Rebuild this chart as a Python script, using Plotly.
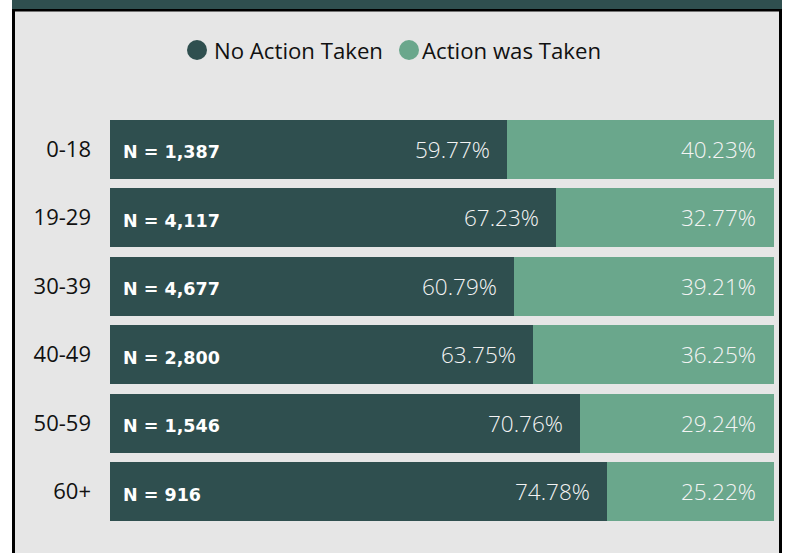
import plotly.graph_objects as go

categories = ["0-18", "19-29", "30-39", "40-49", "50-59", "60+"]
no_action = [59.77, 67.23, 60.79, 63.75, 70.76, 74.78]
action = [40.23, 32.77, 39.21, 36.25, 29.24, 25.22]
n_counts = [1387, 4117, 4677, 2800, 1546, 916]
series_names = ["No Action Taken", "Action was Taken"]
colors = ["#2f4f4f", "#6aa78c"]

W, H = 787, 553
L, R, T, B = 110, 13, 115, 27
PW, PH = W - L - R, H - T - B


def px(x):
    return (x - L) / PW


def py(y):
    return (H - B - y) / PH


FONT = "Open Sans"
fig = go.Figure()
fig.add_trace(go.Bar(y=categories, x=no_action, orientation="h", name=series_names[0],
                     marker=dict(color=colors[0], line=dict(width=0)), showlegend=False,
                     hoverinfo="x+y"))
fig.add_trace(go.Bar(y=categories, x=action, orientation="h", name=series_names[1],
                     marker=dict(color=colors[1], line=dict(width=0)), showlegend=False,
                     hoverinfo="x+y"))

annotations = []
for c, a, b, n in zip(categories, no_action, action, n_counts):
    annotations.append(dict(x=a, y=c, xref="x", yref="y", text=f"{a:.2f}%", showarrow=False,
                            xanchor="right", xshift=-15, yshift=0,
                            font=dict(family=FONT, size=22.5, color="#f4f4f4", weight=300)))
    annotations.append(dict(x=a + b, y=c, xref="x", yref="y", text=f"{b:.2f}%", showarrow=False,
                            xanchor="right", xshift=-16, yshift=0,
                            font=dict(family=FONT, size=22.5, color="#f4f4f4", weight=300)))
    annotations.append(dict(x=0, y=c, xref="x", yref="y", text=f"N = {n:,}", showarrow=False,
                            xanchor="left", xshift=11, yshift=-3,
                            font=dict(family="DejaVu Sans", size=17.5, color="#ffffff", weight="bold")))

# manual legend
leg_y = 50
leg_items = [(187, 212), (399, 420)]
shapes = [
    dict(type="rect", xref="paper", yref="paper", x0=px(13.5), x1=px(780.5), y0=py(600), y1=py(10),
         fillcolor="#e6e6e6", line=dict(color="#000000", width=3), layer="below"),
    dict(type="rect", xref="paper", yref="paper", x0=px(12), x1=px(782), y0=py(9), y1=py(0),
         fillcolor="#2f4f4f", line=dict(width=0), layer="below"),
]
for (cx, tx), name, col in zip(leg_items, series_names, colors):
    shapes.append(dict(type="circle", xref="paper", yref="paper", x0=px(cx), x1=px(cx + 20),
                       y0=py(leg_y + 10), y1=py(leg_y - 10), fillcolor=col, line=dict(width=0)))
    annotations.append(dict(x=px(tx), y=py(leg_y), xref="paper", yref="paper", text=name,
                            showarrow=False, xanchor="left", yanchor="middle",
                            font=dict(family=FONT, size=22.2, color="#111111")))

fig.update_layout(
    width=W, height=H,
    margin=dict(l=L, r=R, t=T, b=B, pad=0),
    barmode="stack", bargap=0.14,
    paper_bgcolor="#ffffff", plot_bgcolor="rgba(0,0,0,0)",
    showlegend=False,
    xaxis=dict(range=[0, 100], visible=False, fixedrange=True),
    yaxis=dict(autorange="reversed", showgrid=False, zeroline=False, showline=False,
               ticks="", ticklabelstandoff=18,
               tickfont=dict(family=FONT, size=22, color="#111111")),
    shapes=shapes, annotations=annotations,
    font=dict(family=FONT),
)

fig.write_html("out.html", config={"displayModeBar": False},
               post_script="document.body.style.margin='0';document.body.style.overflow='hidden';")
